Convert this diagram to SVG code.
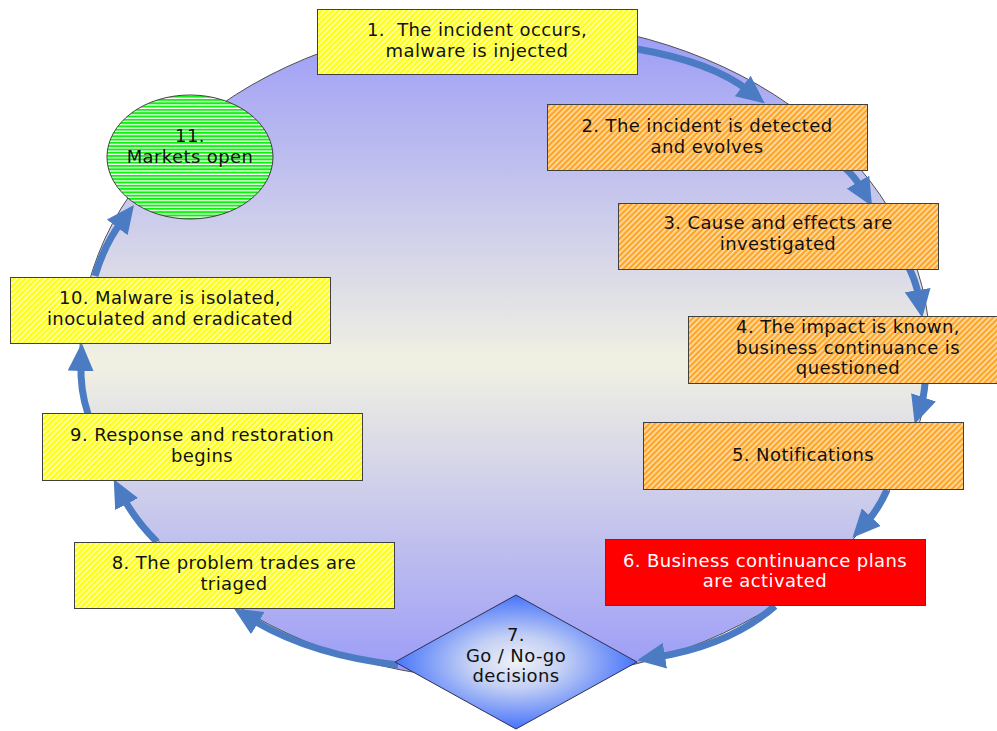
<svg xmlns="http://www.w3.org/2000/svg" width="997" height="731" viewBox="0 0 997 731">
<style>
text{font-family:"DejaVu Sans","Verdana",sans-serif;font-size:18px;letter-spacing:0.4px;fill:#111;text-anchor:middle;white-space:pre}
.box{stroke:#404040;stroke-width:1}
.yel{fill:url(#hatchY)}
.org{fill:url(#hatchO)}
.conn path{fill:none;stroke:#4a7bc3;stroke-width:7;marker-end:url(#ah)}
</style>
<defs>
<linearGradient id="bg" x1="0" y1="0" x2="0" y2="1">
<stop offset="0" stop-color="#9a9af8"/>
<stop offset="0.52" stop-color="#f1f1e2"/>
<stop offset="1" stop-color="#9a9af8"/>
</linearGradient>
<radialGradient id="dg" cx="0.5" cy="0.5" r="0.55">
<stop offset="0" stop-color="#f0f2f6"/>
<stop offset="0.35" stop-color="#c4d0f4"/>
<stop offset="1" stop-color="#3264fc"/>
</radialGradient>
<pattern id="hatchY" width="4" height="4" patternUnits="userSpaceOnUse" patternTransform="rotate(45)">
<rect width="4" height="4" fill="#ffff10"/>
<rect width="1.6" height="4" fill="#ffffb8"/>
</pattern>
<pattern id="hatchO" width="4" height="4" patternUnits="userSpaceOnUse" patternTransform="rotate(45)">
<rect width="4" height="4" fill="#ffa424"/>
<rect width="1.6" height="4" fill="#ffe2b4"/>
</pattern>
<pattern id="hatchG" width="4" height="3.3" patternUnits="userSpaceOnUse">
<rect width="4" height="3.3" fill="#10f010"/>
<rect y="2" width="4" height="1.3" fill="#ffffff"/>
</pattern>
<marker id="ah" markerUnits="userSpaceOnUse" markerWidth="28" markerHeight="26" viewBox="0 0 28 26" refX="8" refY="13" orient="auto">
<path d="M0,0 L28,13 L0,26 z" fill="#4a7bc3"/>
</marker>
</defs>
<ellipse id="cycle" cx="505" cy="350" rx="425" ry="330" fill="url(#bg)" stroke="#505050" stroke-width="1"/>
<g id="connectors" class="conn">
<path d="M637,49 Q712,62 749,91"/>
<path d="M845,168 Q855,177 862,189"/>
<path d="M906,262 Q916,280 919,298"/>
<path d="M925,383 Q924,396 921,405"/>
<path d="M887,490 Q878,510 866,523"/>
<path d="M775,606 Q730,645 657,657"/>
<path d="M398,665 Q310,655 251,619"/>
<path d="M157,542 Q135,520 123,497"/>
<path d="M88,414 Q80,390 81,363"/>
<path d="M95,276 Q104,245 122,221"/>
</g>
<g id="n1"><rect class="box yel" x="317.5" y="9.5" width="320" height="65"/>
<text x="477" y="36">1.  The incident occurs,</text><text x="477" y="57">malware is injected</text></g>
<g id="n2"><rect class="box org" x="547.5" y="104.5" width="320" height="66"/>
<text x="707" y="132">2. The incident is detected</text><text x="707" y="153">and evolves</text></g>
<g id="n3"><rect class="box org" x="618.5" y="203.5" width="320" height="66"/>
<text x="778" y="229">3. Cause and effects are</text><text x="778" y="250">investigated</text></g>
<g id="n4"><rect class="box org" x="688.5" y="316.5" width="320" height="67"/>
<text x="848" y="333">4. The impact is known,</text><text x="848" y="354">business continuance is</text><text x="848" y="374">questioned</text></g>
<g id="n5"><rect class="box org" x="643.5" y="422.5" width="320" height="67"/>
<text x="803" y="461">5. Notifications</text></g>
<g id="n6"><rect class="box" fill="#ff0000" x="605.5" y="539.5" width="320" height="66"/>
<text x="765" y="567" style="fill:#ffffff">6. Business continuance plans</text><text x="765" y="587" style="fill:#ffffff">are activated</text></g>
<g id="n7"><path d="M516,595 L637,662 L516,729 L395,662 z" fill="url(#dg)" stroke="#303050" stroke-width="1"/>
<text x="516" y="641">7.</text><text x="516" y="662">Go / No-go</text><text x="516" y="682">decisions</text></g>
<g id="n8"><rect class="box yel" x="74.5" y="542.5" width="320" height="66"/>
<text x="234" y="569">8. The problem trades are</text><text x="234" y="590">triaged</text></g>
<g id="n9"><rect class="box yel" x="42.5" y="413.5" width="320" height="67"/>
<text x="202" y="441">9. Response and restoration</text><text x="202" y="462">begins</text></g>
<g id="n10"><rect class="box yel" x="10.5" y="277.5" width="320" height="66"/>
<text x="170" y="304">10. Malware is isolated,</text><text x="170" y="325">inoculated and eradicated</text></g>
<g id="n11"><ellipse cx="190" cy="157" rx="83" ry="62" fill="url(#hatchG)" stroke="#404040" stroke-width="1"/>
<text x="190" y="142">11.</text><text x="190" y="163">Markets open</text></g>
</svg>
